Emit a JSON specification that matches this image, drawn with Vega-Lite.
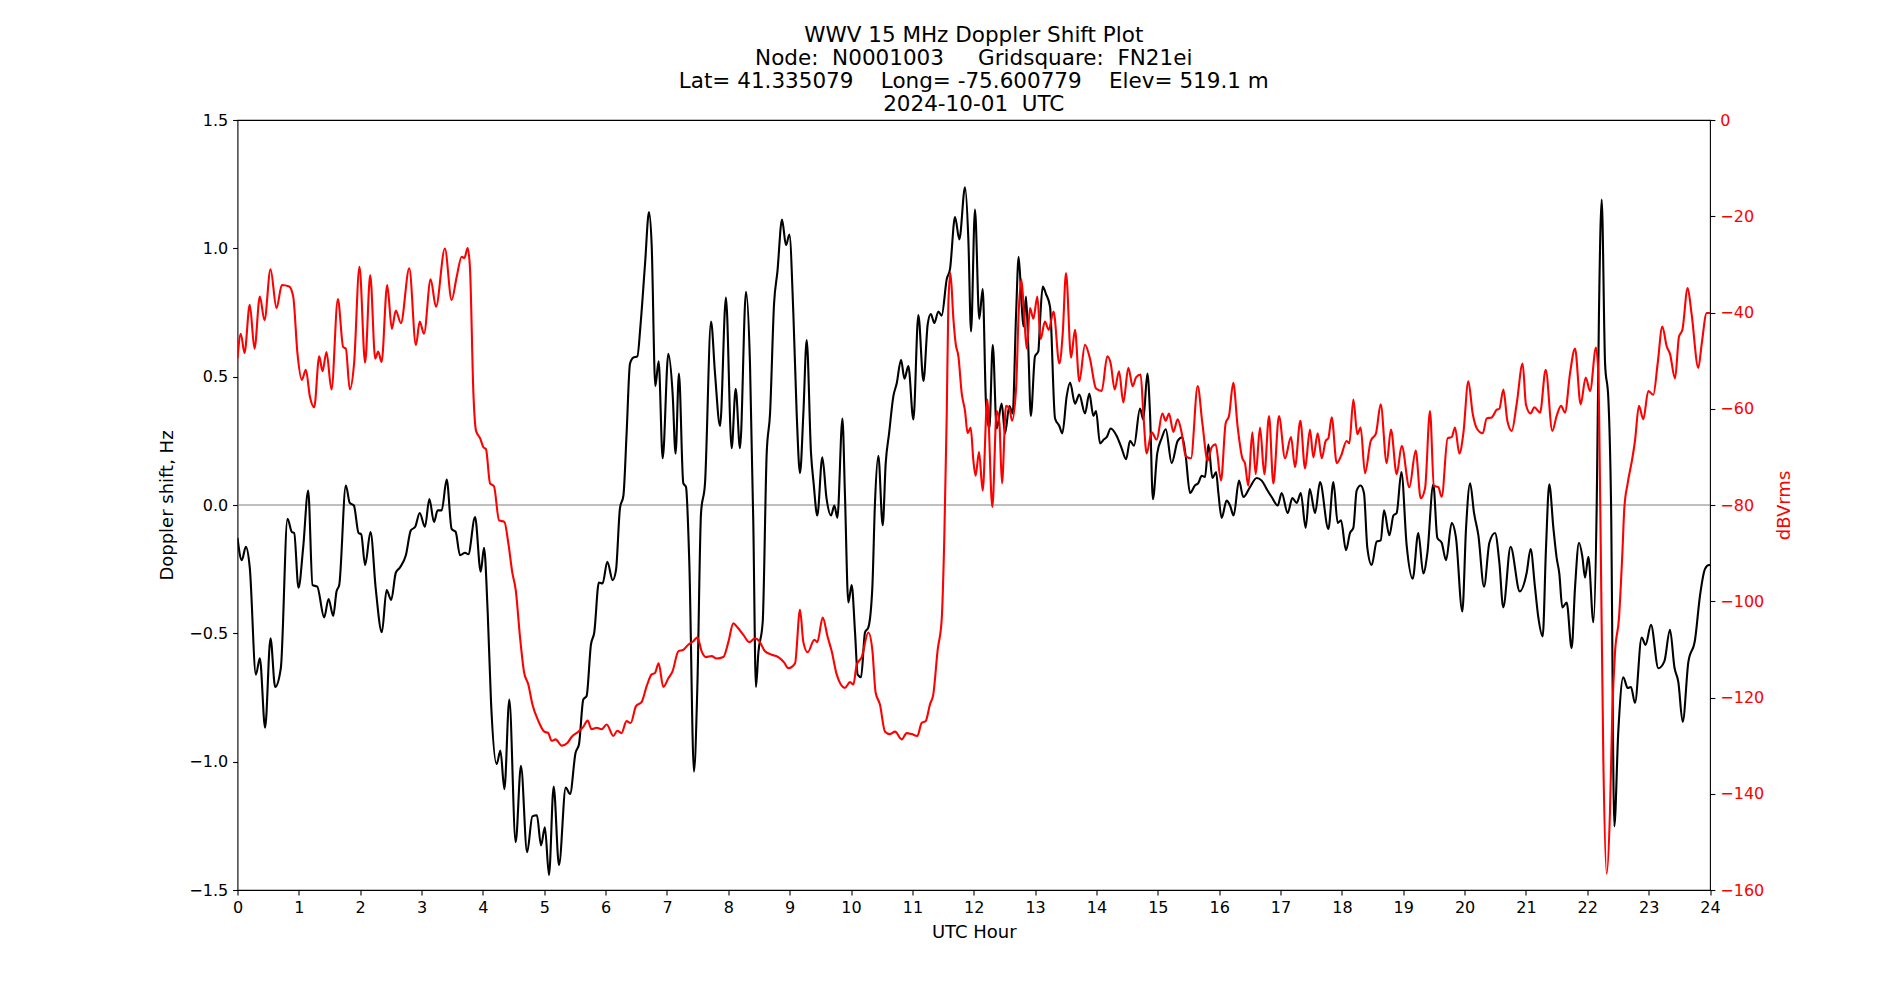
{
  "$schema": "https://vega.github.io/schema/vega-lite/v6.json",
  "width": 1472.5,
  "height": 770,
  "autosize": "none",
  "padding": {"left": 237.5, "top": 120, "right": 190, "bottom": 110},
  "background": "white",
  "title": {
    "text": ["WWV 15 MHz Doppler Shift Plot", "Node:\u00a0\u00a0N0001003\u00a0\u00a0\u00a0\u00a0\u00a0Gridsquare:\u00a0\u00a0FN21ei", "Lat=\u00a041.335079\u00a0\u00a0\u00a0\u00a0Long=\u00a0-75.600779\u00a0\u00a0\u00a0\u00a0Elev=\u00a0519.1\u00a0m", "2024-10-01\u00a0\u00a0UTC"],
    "font": "DejaVu Sans",
    "fontSize": 21.5,
    "fontWeight": "normal",
    "lineHeight": 23,
    "color": "black",
    "anchor": "middle",
    "frame": "group",
    "offset": -3.5
  },
  "config": {
    "view": {"stroke": "black", "strokeWidth": 1.1},
    "axis": {
      "labelFont": "DejaVu Sans",
      "titleFont": "DejaVu Sans",
      "labelFontSize": 16,
      "titleFontSize": 18,
      "titleFontWeight": "normal",
      "labelColor": "black",
      "titleColor": "black",
      "tickColor": "black",
      "tickWidth": 1.1,
      "tickSize": 4.9,
      "labelPadding": 4.9,
      "domain": false,
      "grid": false
    }
  },
  "datasets": {
    "doppler": [
      {"hour":0,"shift":-0.128},{"hour":0.07,"shift":-0.215},{"hour":0.136,"shift":-0.163},{"hour":0.2,"shift":-0.244},{"hour":0.3,"shift":-0.661},{"hour":0.364,"shift":-0.597},{"hour":0.45,"shift":-0.868},{"hour":0.538,"shift":-0.519},{"hour":0.614,"shift":-0.709},{"hour":0.706,"shift":-0.636},{"hour":0.815,"shift":-0.054},{"hour":0.886,"shift":-0.105},{"hour":0.924,"shift":-0.109},{"hour":0.994,"shift":-0.322},{"hour":1.07,"shift":-0.167},{"hour":1.152,"shift":0.056},{"hour":1.223,"shift":-0.312},{"hour":1.3,"shift":-0.318},{"hour":1.413,"shift":-0.438},{"hour":1.484,"shift":-0.366},{"hour":1.56,"shift":-0.432},{"hour":1.614,"shift":-0.337},{"hour":1.658,"shift":-0.312},{"hour":1.766,"shift":0.076},{"hour":1.83,"shift":0.008},{"hour":1.897,"shift":-0.002},{"hour":1.973,"shift":-0.109},{"hour":2.016,"shift":-0.114},{"hour":2.08,"shift":-0.234},{"hour":2.168,"shift":-0.105},{"hour":2.255,"shift":-0.331},{"hour":2.353,"shift":-0.496},{"hour":2.43,"shift":-0.331},{"hour":2.505,"shift":-0.37},{"hour":2.58,"shift":-0.264},{"hour":2.646,"shift":-0.244},{"hour":2.744,"shift":-0.196},{"hour":2.825,"shift":-0.099},{"hour":2.897,"shift":-0.085},{"hour":2.97,"shift":-0.031},
      {"hour":3.056,"shift":-0.085},{"hour":3.127,"shift":0.023},{"hour":3.203,"shift":-0.066},{"hour":3.262,"shift":-0.021},{"hour":3.328,"shift":-0.021},{"hour":3.41,"shift":0.099},{"hour":3.49,"shift":-0.093},{"hour":3.556,"shift":-0.105},{"hour":3.627,"shift":-0.196},{"hour":3.71,"shift":-0.186},{"hour":3.762,"shift":-0.192},{"hour":3.872,"shift":-0.047},{"hour":3.964,"shift":-0.26},{"hour":4.018,"shift":-0.167},{"hour":4.078,"shift":-0.419},{"hour":4.132,"shift":-0.767},{"hour":4.224,"shift":-1.01},{"hour":4.285,"shift":-0.957},{"hour":4.35,"shift":-1.107},{"hour":4.43,"shift":-0.758},{"hour":4.534,"shift":-1.314},{"hour":4.62,"shift":-1.016},{"hour":4.72,"shift":-1.353},{"hour":4.806,"shift":-1.213},{"hour":4.88,"shift":-1.209},{"hour":4.947,"shift":-1.326},{"hour":5.01,"shift":-1.256},{"hour":5.077,"shift":-1.442},{"hour":5.153,"shift":-1.097},{"hour":5.24,"shift":-1.403},{"hour":5.35,"shift":-1.101},{"hour":5.42,"shift":-1.126},{"hour":5.51,"shift":-0.965},{"hour":5.566,"shift":-0.932},{"hour":5.636,"shift":-0.758},{"hour":5.69,"shift":-0.744},{"hour":5.76,"shift":-0.545},{"hour":5.815,"shift":-0.496},{"hour":5.89,"shift":-0.302},{"hour":5.95,"shift":-0.306},
      {"hour":6.028,"shift":-0.221},{"hour":6.115,"shift":-0.293},{"hour":6.169,"shift":-0.254},{"hour":6.234,"shift":-0.012},{"hour":6.29,"shift":0.037},{"hour":6.342,"shift":0.279},{"hour":6.397,"shift":0.55},{"hour":6.45,"shift":0.574},{"hour":6.517,"shift":0.579},{"hour":6.57,"shift":0.705},{"hour":6.642,"shift":0.938},{"hour":6.707,"shift":1.141},{"hour":6.75,"shift":1.016},{"hour":6.81,"shift":0.463},{"hour":6.864,"shift":0.56},{"hour":6.93,"shift":0.182},{"hour":7.022,"shift":0.589},{"hour":7.092,"shift":0.434},{"hour":7.14,"shift":0.2},{"hour":7.195,"shift":0.512},{"hour":7.266,"shift":0.085},{"hour":7.31,"shift":0.07},{"hour":7.364,"shift":-0.225},{"hour":7.44,"shift":-1.039},{"hour":7.495,"shift":-0.709},{"hour":7.555,"shift":-0.031},{"hour":7.62,"shift":0.085},{"hour":7.718,"shift":0.715},{"hour":7.783,"shift":0.512},{"hour":7.865,"shift":0.308},{"hour":7.961,"shift":0.808},{"hour":8.054,"shift":0.221},{"hour":8.12,"shift":0.453},{"hour":8.19,"shift":0.221},{"hour":8.288,"shift":0.831},{"hour":8.353,"shift":0.55},{"hour":8.407,"shift":-0.07},{"hour":8.45,"shift":-0.709},{"hour":8.49,"shift":-0.574},{"hour":8.56,"shift":-0.457},{"hour":8.625,"shift":0.2},{"hour":8.68,"shift":0.357},{"hour":8.745,"shift":0.783},{"hour":8.8,"shift":0.909},{"hour":8.875,"shift":1.112},{"hour":8.94,"shift":1.012},{"hour":8.995,"shift":1.054},
      {"hour":9.06,"shift":0.744},{"hour":9.114,"shift":0.357},{"hour":9.168,"shift":0.124},{"hour":9.223,"shift":0.357},{"hour":9.277,"shift":0.643},{"hour":9.348,"shift":0.2},{"hour":9.39,"shift":0.085},{"hour":9.45,"shift":-0.041},{"hour":9.532,"shift":0.186},{"hour":9.6,"shift":0.027},{"hour":9.674,"shift":-0.041},{"hour":9.728,"shift":-0.002},{"hour":9.777,"shift":-0.05},{"hour":9.86,"shift":0.337},{"hour":9.9,"shift":0.047},{"hour":9.956,"shift":-0.38},{"hour":10.01,"shift":-0.312},{"hour":10.065,"shift":-0.496},{"hour":10.108,"shift":-0.661},{"hour":10.163,"shift":-0.671},{"hour":10.228,"shift":-0.496},{"hour":10.282,"shift":-0.477},{"hour":10.347,"shift":-0.322},{"hour":10.39,"shift":0.008},{"hour":10.445,"shift":0.192},{"hour":10.516,"shift":-0.079},{"hour":10.565,"shift":0.163},{"hour":10.62,"shift":0.279},{"hour":10.69,"shift":0.424},{"hour":10.744,"shift":0.473},{"hour":10.815,"shift":0.566},{"hour":10.87,"shift":0.492},{"hour":10.934,"shift":0.541},{"hour":11.016,"shift":0.333},{"hour":11.097,"shift":0.74},{"hour":11.18,"shift":0.483},{"hour":11.25,"shift":0.705},{"hour":11.3,"shift":0.744},{"hour":11.358,"shift":0.709},{"hour":11.423,"shift":0.754},{"hour":11.477,"shift":0.738},{"hour":11.56,"shift":0.88},{"hour":11.613,"shift":0.919},{"hour":11.695,"shift":1.122},{"hour":11.765,"shift":1.035},{"hour":11.858,"shift":1.238},{"hour":11.912,"shift":1.035},{"hour":11.956,"shift":0.676},{"hour":12.02,"shift":1.151},{"hour":12.09,"shift":0.725},
      {"hour":12.146,"shift":0.841},{"hour":12.2,"shift":0.395},{"hour":12.254,"shift":0.298},{"hour":12.31,"shift":0.624},{"hour":12.374,"shift":0.298},{"hour":12.455,"shift":0.395},{"hour":12.51,"shift":0.279},{"hour":12.58,"shift":0.386},{"hour":12.634,"shift":0.357},{"hour":12.69,"shift":0.744},{"hour":12.732,"shift":0.967},{"hour":12.78,"shift":0.783},{"hour":12.81,"shift":0.696},{"hour":12.852,"shift":0.812},{"hour":12.89,"shift":0.609},{"hour":12.93,"shift":0.347},{"hour":12.998,"shift":0.579},{"hour":13.053,"shift":0.599},{"hour":13.08,"shift":0.715},{"hour":13.124,"shift":0.851},{"hour":13.178,"shift":0.822},{"hour":13.243,"shift":0.773},{"hour":13.325,"shift":0.337},{"hour":13.395,"shift":0.308},{"hour":13.444,"shift":0.279},{"hour":13.515,"shift":0.424},{"hour":13.57,"shift":0.477},{"hour":13.65,"shift":0.395},{"hour":13.72,"shift":0.43},{"hour":13.813,"shift":0.357},{"hour":13.884,"shift":0.434},{"hour":13.95,"shift":0.347},{"hour":13.993,"shift":0.366},{"hour":14.058,"shift":0.24},{"hour":14.123,"shift":0.256},{"hour":14.167,"shift":0.264},{"hour":14.232,"shift":0.298},{"hour":14.33,"shift":0.269},{"hour":14.411,"shift":0.221},{"hour":14.482,"shift":0.178},{"hour":14.547,"shift":0.25},{"hour":14.612,"shift":0.231},{"hour":14.71,"shift":0.376},{"hour":14.764,"shift":0.333},{"hour":14.83,"shift":0.512},{"hour":14.873,"shift":0.357},{"hour":14.92,"shift":0.023},{"hour":14.99,"shift":0.2},
      {"hour":15.063,"shift":0.26},{"hour":15.13,"shift":0.295},{"hour":15.226,"shift":0.163},{"hour":15.324,"shift":0.25},{"hour":15.4,"shift":0.264},{"hour":15.454,"shift":0.192},{"hour":15.525,"shift":0.047},{"hour":15.606,"shift":0.076},{"hour":15.66,"shift":0.085},{"hour":15.715,"shift":0.114},{"hour":15.77,"shift":0.109},{"hour":15.824,"shift":0.236},{"hour":15.89,"shift":0.105},{"hour":15.95,"shift":0.128},{"hour":15.987,"shift":0.047},{"hour":16.04,"shift":-0.05},{"hour":16.122,"shift":0.017},{"hour":16.177,"shift":-0.002},{"hour":16.236,"shift":-0.041},{"hour":16.323,"shift":0.095},{"hour":16.394,"shift":0.031},{"hour":16.503,"shift":0.07},{"hour":16.611,"shift":0.105},{"hour":16.693,"shift":0.095},{"hour":16.775,"shift":0.062},{"hour":16.856,"shift":0.031},{"hour":16.954,"shift":-0.002},{"hour":17.019,"shift":0.047},{"hour":17.117,"shift":-0.031},{"hour":17.193,"shift":0.027},{"hour":17.264,"shift":0.008},{"hour":17.33,"shift":0.047},{"hour":17.41,"shift":-0.089},{"hour":17.476,"shift":0.062},{"hour":17.563,"shift":-0.031},{"hour":17.644,"shift":0.089},{"hour":17.78,"shift":-0.093},{"hour":17.862,"shift":0.089},{"hour":17.932,"shift":-0.07},{"hour":17.986,"shift":-0.06},
      {"hour":18.067,"shift":-0.176},{"hour":18.133,"shift":-0.109},{"hour":18.187,"shift":-0.089},{"hour":18.241,"shift":0.056},{"hour":18.306,"shift":0.076},{"hour":18.36,"shift":0.047},{"hour":18.415,"shift":-0.167},{"hour":18.486,"shift":-0.234},{"hour":18.567,"shift":-0.143},{"hour":18.633,"shift":-0.138},{"hour":18.687,"shift":-0.021},{"hour":18.774,"shift":-0.118},{"hour":18.84,"shift":-0.041},{"hour":18.893,"shift":-0.031},{"hour":18.97,"shift":0.128},{"hour":19.056,"shift":-0.157},{"hour":19.154,"shift":-0.287},{"hour":19.246,"shift":-0.109},{"hour":19.327,"shift":-0.267},{"hour":19.394,"shift":-0.186},{"hour":19.49,"shift":0.081},{"hour":19.556,"shift":-0.128},{"hour":19.627,"shift":-0.147},{"hour":19.698,"shift":-0.215},{"hour":19.79,"shift":-0.07},{"hour":19.86,"shift":-0.128},{"hour":19.963,"shift":-0.415},{"hour":20.024,"shift":-0.089},{"hour":20.09,"shift":0.085},{"hour":20.154,"shift":-0.031},{"hour":20.225,"shift":-0.118},{"hour":20.317,"shift":-0.318},{"hour":20.404,"shift":-0.147},{"hour":20.496,"shift":-0.109},{"hour":20.567,"shift":-0.225},{"hour":20.63,"shift":-0.399},{"hour":20.75,"shift":-0.163},{"hour":20.9,"shift":-0.337},{"hour":21.012,"shift":-0.264},{"hour":21.076,"shift":-0.172},
      {"hour":21.148,"shift":-0.322},{"hour":21.202,"shift":-0.438},{"hour":21.273,"shift":-0.512},{"hour":21.327,"shift":-0.167},{"hour":21.38,"shift":0.081},{"hour":21.447,"shift":-0.089},{"hour":21.5,"shift":-0.205},{"hour":21.544,"shift":-0.267},{"hour":21.593,"shift":-0.399},{"hour":21.664,"shift":-0.38},{"hour":21.745,"shift":-0.558},{"hour":21.8,"shift":-0.322},{"hour":21.865,"shift":-0.147},{"hour":21.92,"shift":-0.202},{"hour":21.963,"shift":-0.283},{"hour":22.017,"shift":-0.202},{"hour":22.1,"shift":-0.457},{"hour":22.154,"shift":0.008},{"hour":22.19,"shift":0.744},{"hour":22.235,"shift":1.19},{"hour":22.29,"shift":0.55},{"hour":22.343,"shift":0.415},{"hour":22.387,"shift":0.008},{"hour":22.44,"shift":-1.252},{"hour":22.505,"shift":-0.884},{"hour":22.587,"shift":-0.671},{"hour":22.658,"shift":-0.713},{"hour":22.712,"shift":-0.709},{"hour":22.777,"shift":-0.771},{"hour":22.886,"shift":-0.516},{"hour":22.95,"shift":-0.545},{"hour":23.038,"shift":-0.467},{"hour":23.158,"shift":-0.636},{"hour":23.256,"shift":-0.609},{"hour":23.348,"shift":-0.486},{"hour":23.42,"shift":-0.632},{"hour":23.484,"shift":-0.69},{"hour":23.555,"shift":-0.845},{"hour":23.647,"shift":-0.612},{"hour":23.756,"shift":-0.525},{"hour":23.838,"shift":-0.351},{"hour":23.92,"shift":-0.248},{"hour":23.984,"shift":-0.234},{"hour":24,"shift":-0.234}
    ],
    "power": [
      {"hour":0,"dbv":-49.6},{"hour":0.054,"dbv":-44.4},{"hour":0.114,"dbv":-48.4},{"hour":0.2,"dbv":-38.4},{"hour":0.277,"dbv":-47.5},{"hour":0.364,"dbv":-36.7},{"hour":0.44,"dbv":-41.6},{"hour":0.538,"dbv":-31.0},{"hour":0.636,"dbv":-39.1},{"hour":0.723,"dbv":-34.3},{"hour":0.842,"dbv":-34.6},{"hour":0.908,"dbv":-36.7},{"hour":0.978,"dbv":-48.6},{"hour":1.049,"dbv":-54.0},{"hour":1.114,"dbv":-51.9},{"hour":1.179,"dbv":-57.4},{"hour":1.25,"dbv":-59.7},{"hour":1.332,"dbv":-49.1},{"hour":1.386,"dbv":-52.2},{"hour":1.45,"dbv":-48.2},{"hour":1.532,"dbv":-56.0},{"hour":1.636,"dbv":-37.2},{"hour":1.723,"dbv":-47.2},{"hour":1.766,"dbv":-47.5},{"hour":1.83,"dbv":-56.0},{"hour":1.9,"dbv":-50.6},{"hour":1.988,"dbv":-30.5},{"hour":2.08,"dbv":-50.4},{"hour":2.163,"dbv":-32.2},{"hour":2.245,"dbv":-49.6},{"hour":2.293,"dbv":-48.1},{"hour":2.348,"dbv":-50.3},{"hour":2.44,"dbv":-34.3},{"hour":2.516,"dbv":-43.4},{"hour":2.58,"dbv":-39.6},{"hour":2.663,"dbv":-42.2},{"hour":2.8,"dbv":-30.8},{"hour":2.908,"dbv":-46.8},{"hour":2.97,"dbv":-41.9},{"hour":3.04,"dbv":-44.4},
      {"hour":3.148,"dbv":-33.1},{"hour":3.235,"dbv":-38.8},{"hour":3.38,"dbv":-26.7},{"hour":3.49,"dbv":-37.4},{"hour":3.572,"dbv":-32.6},{"hour":3.654,"dbv":-28.4},{"hour":3.697,"dbv":-28.7},{"hour":3.752,"dbv":-26.6},{"hour":3.79,"dbv":-31.0},{"hour":3.845,"dbv":-56.8},{"hour":3.888,"dbv":-64.6},{"hour":3.953,"dbv":-66.1},{"hour":4.008,"dbv":-68.0},{"hour":4.05,"dbv":-68.4},{"hour":4.116,"dbv":-75.5},{"hour":4.18,"dbv":-76.1},{"hour":4.263,"dbv":-83.2},{"hour":4.35,"dbv":-83.5},{"hour":4.414,"dbv":-87.9},{"hour":4.48,"dbv":-94.1},{"hour":4.535,"dbv":-97.7},{"hour":4.605,"dbv":-107.5},{"hour":4.67,"dbv":-114.7},{"hour":4.74,"dbv":-117.3},{"hour":4.806,"dbv":-121.4},{"hour":4.904,"dbv":-124.9},{"hour":5.0,"dbv":-127.1},{"hour":5.066,"dbv":-127.4},{"hour":5.12,"dbv":-129.0},{"hour":5.185,"dbv":-128.7},{"hour":5.284,"dbv":-130.0},{"hour":5.38,"dbv":-129.4},{"hour":5.445,"dbv":-128.2},{"hour":5.554,"dbv":-127.1},{"hour":5.636,"dbv":-126.1},{"hour":5.707,"dbv":-124.8},{"hour":5.77,"dbv":-126.6},{"hour":5.853,"dbv":-126.3},{"hour":5.935,"dbv":-126.6},{"hour":6.017,"dbv":-125.6},
      {"hour":6.125,"dbv":-128.0},{"hour":6.19,"dbv":-126.9},{"hour":6.26,"dbv":-127.4},{"hour":6.34,"dbv":-124.9},{"hour":6.408,"dbv":-125.3},{"hour":6.495,"dbv":-121.8},{"hour":6.588,"dbv":-120.9},{"hour":6.67,"dbv":-117.6},{"hour":6.75,"dbv":-115.2},{"hour":6.804,"dbv":-114.9},{"hour":6.864,"dbv":-112.9},{"hour":6.94,"dbv":-117.8},{"hour":7.022,"dbv":-116.0},{"hour":7.092,"dbv":-114.5},{"hour":7.185,"dbv":-110.4},{"hour":7.266,"dbv":-110.1},{"hour":7.35,"dbv":-109.0},{"hour":7.43,"dbv":-108.3},{"hour":7.495,"dbv":-107.5},{"hour":7.565,"dbv":-110.4},{"hour":7.636,"dbv":-111.6},{"hour":7.728,"dbv":-111.4},{"hour":7.81,"dbv":-111.9},{"hour":7.918,"dbv":-111.6},{"hour":8.0,"dbv":-108.5},{"hour":8.081,"dbv":-104.6},{"hour":8.147,"dbv":-105.4},{"hour":8.245,"dbv":-107.0},{"hour":8.343,"dbv":-108.5},{"hour":8.434,"dbv":-107.7},{"hour":8.505,"dbv":-108.3},{"hour":8.598,"dbv":-110.4},{"hour":8.707,"dbv":-111.1},{"hour":8.815,"dbv":-111.6},{"hour":8.908,"dbv":-112.7},{"hour":8.978,"dbv":-113.9},
      {"hour":9.087,"dbv":-112.9},{"hour":9.168,"dbv":-101.8},{"hour":9.223,"dbv":-108.5},{"hour":9.293,"dbv":-110.6},{"hour":9.402,"dbv":-108.0},{"hour":9.45,"dbv":-108.5},{"hour":9.538,"dbv":-103.4},{"hour":9.62,"dbv":-107.5},{"hour":9.685,"dbv":-110.4},{"hour":9.766,"dbv":-115.2},{"hour":9.9,"dbv":-118.0},{"hour":9.983,"dbv":-116.8},{"hour":10.038,"dbv":-117.3},{"hour":10.092,"dbv":-113.2},{"hour":10.174,"dbv":-111.6},{"hour":10.282,"dbv":-106.5},{"hour":10.347,"dbv":-110.1},{"hour":10.4,"dbv":-118.9},{"hour":10.47,"dbv":-121.4},{"hour":10.554,"dbv":-127.1},{"hour":10.635,"dbv":-127.6},{"hour":10.717,"dbv":-127.1},{"hour":10.826,"dbv":-128.7},{"hour":10.907,"dbv":-127.4},{"hour":10.99,"dbv":-127.6},{"hour":11.08,"dbv":-128.0},{"hour":11.15,"dbv":-125.3},{"hour":11.217,"dbv":-124.9},{"hour":11.287,"dbv":-121.4},{"hour":11.34,"dbv":-119.4},{"hour":11.412,"dbv":-110.1},{"hour":11.477,"dbv":-103.9},{"hour":11.52,"dbv":-86.8},{"hour":11.56,"dbv":-61.0},{"hour":11.586,"dbv":-38.2},{"hour":11.62,"dbv":-31.8},{"hour":11.668,"dbv":-41.3},{"hour":11.706,"dbv":-46.5},{"hour":11.75,"dbv":-49.1},{"hour":11.804,"dbv":-56.8},{"hour":11.858,"dbv":-60.5},{"hour":11.9,"dbv":-65.1},{"hour":11.95,"dbv":-63.9},{"hour":11.994,"dbv":-70.8},{"hour":12.03,"dbv":-73.9},{"hour":12.086,"dbv":-69.0},
      {"hour":12.146,"dbv":-77.0},{"hour":12.22,"dbv":-58.1},{"hour":12.303,"dbv":-80.4},{"hour":12.374,"dbv":-60.5},{"hour":12.418,"dbv":-63.0},{"hour":12.46,"dbv":-75.5},{"hour":12.526,"dbv":-59.4},{"hour":12.58,"dbv":-59.9},{"hour":12.624,"dbv":-62.5},{"hour":12.69,"dbv":-55.8},{"hour":12.733,"dbv":-39.8},{"hour":12.776,"dbv":-33.1},{"hour":12.82,"dbv":-40.3},{"hour":12.863,"dbv":-47.5},{"hour":12.917,"dbv":-39.1},{"hour":12.972,"dbv":-41.3},{"hour":13.036,"dbv":-36.7},{"hour":13.09,"dbv":-45.5},{"hour":13.16,"dbv":-41.9},{"hour":13.222,"dbv":-43.6},{"hour":13.3,"dbv":-39.8},{"hour":13.395,"dbv":-50.6},{"hour":13.45,"dbv":-44.4},{"hour":13.504,"dbv":-31.8},{"hour":13.586,"dbv":-49.4},{"hour":13.65,"dbv":-43.6},{"hour":13.72,"dbv":-54.3},{"hour":13.813,"dbv":-46.7},{"hour":13.894,"dbv":-49.6},{"hour":13.993,"dbv":-55.8},{"hour":14.085,"dbv":-56.3},{"hour":14.177,"dbv":-49.1},{"hour":14.232,"dbv":-50.6},{"hour":14.297,"dbv":-56.0},{"hour":14.368,"dbv":-52.2},{"hour":14.438,"dbv":-58.7},{"hour":14.52,"dbv":-51.5},{"hour":14.59,"dbv":-55.3},{"hour":14.645,"dbv":-53.5},{"hour":14.72,"dbv":-52.9},{"hour":14.764,"dbv":-61.0},{"hour":14.818,"dbv":-69.3},{"hour":14.9,"dbv":-64.9},{"hour":14.982,"dbv":-66.4},
      {"hour":15.074,"dbv":-61.0},{"hour":15.128,"dbv":-62.5},{"hour":15.183,"dbv":-61.0},{"hour":15.253,"dbv":-64.8},{"hour":15.324,"dbv":-62.2},{"hour":15.39,"dbv":-65.1},{"hour":15.454,"dbv":-69.8},{"hour":15.54,"dbv":-70.3},{"hour":15.65,"dbv":-55.3},{"hour":15.726,"dbv":-63.0},{"hour":15.813,"dbv":-70.8},{"hour":15.878,"dbv":-68.0},{"hour":15.943,"dbv":-67.4},{"hour":16.03,"dbv":-74.9},{"hour":16.106,"dbv":-63.0},{"hour":16.16,"dbv":-61.5},{"hour":16.23,"dbv":-54.6},{"hour":16.3,"dbv":-63.6},{"hour":16.378,"dbv":-70.3},{"hour":16.42,"dbv":-71.3},{"hour":16.475,"dbv":-76.0},{"hour":16.54,"dbv":-64.9},{"hour":16.595,"dbv":-73.6},{"hour":16.666,"dbv":-63.9},{"hour":16.736,"dbv":-73.6},{"hour":16.813,"dbv":-61.5},{"hour":16.883,"dbv":-75.5},{"hour":16.975,"dbv":-61.5},{"hour":17.073,"dbv":-70.3},{"hour":17.171,"dbv":-65.9},{"hour":17.236,"dbv":-72.1},{"hour":17.323,"dbv":-62.5},{"hour":17.4,"dbv":-72.4},{"hour":17.48,"dbv":-64.3},{"hour":17.535,"dbv":-70.1},{"hour":17.606,"dbv":-65.1},{"hour":17.672,"dbv":-70.3},{"hour":17.736,"dbv":-66.7},{"hour":17.78,"dbv":-66.1},{"hour":17.834,"dbv":-61.8},{"hour":17.916,"dbv":-71.3},{"hour":17.986,"dbv":-69.8},
      {"hour":18.078,"dbv":-66.7},{"hour":18.122,"dbv":-67.2},{"hour":18.187,"dbv":-58.1},{"hour":18.252,"dbv":-65.3},{"hour":18.306,"dbv":-63.9},{"hour":18.377,"dbv":-73.4},{"hour":18.47,"dbv":-66.7},{"hour":18.556,"dbv":-65.1},{"hour":18.633,"dbv":-59.1},{"hour":18.73,"dbv":-71.3},{"hour":18.8,"dbv":-64.3},{"hour":18.893,"dbv":-73.6},{"hour":18.975,"dbv":-67.7},{"hour":19.1,"dbv":-76.3},{"hour":19.203,"dbv":-68.7},{"hour":19.285,"dbv":-78.6},{"hour":19.356,"dbv":-76.5},{"hour":19.436,"dbv":-60.5},{"hour":19.5,"dbv":-76.0},{"hour":19.572,"dbv":-76.3},{"hour":19.627,"dbv":-78.3},{"hour":19.724,"dbv":-66.1},{"hour":19.79,"dbv":-65.9},{"hour":19.844,"dbv":-63.9},{"hour":19.915,"dbv":-69.3},{"hour":19.98,"dbv":-65.1},{"hour":20.061,"dbv":-54.3},{"hour":20.132,"dbv":-61.0},{"hour":20.2,"dbv":-64.1},{"hour":20.296,"dbv":-65.1},{"hour":20.36,"dbv":-62.0},{"hour":20.442,"dbv":-61.8},{"hour":20.524,"dbv":-60.2},{"hour":20.567,"dbv":-60.0},{"hour":20.632,"dbv":-56.0},{"hour":20.697,"dbv":-62.5},{"hour":20.768,"dbv":-64.6},{"hour":20.85,"dbv":-58.9},{"hour":20.946,"dbv":-50.6},{"hour":21.0,"dbv":-59.1},{"hour":21.076,"dbv":-61.0},
      {"hour":21.137,"dbv":-59.7},{"hour":21.23,"dbv":-60.8},{"hour":21.322,"dbv":-51.9},{"hour":21.43,"dbv":-64.6},{"hour":21.5,"dbv":-61.5},{"hour":21.572,"dbv":-59.4},{"hour":21.636,"dbv":-60.8},{"hour":21.718,"dbv":-52.7},{"hour":21.8,"dbv":-47.5},{"hour":21.892,"dbv":-59.1},{"hour":21.974,"dbv":-53.5},{"hour":22.045,"dbv":-56.3},{"hour":22.142,"dbv":-47.3},{"hour":22.18,"dbv":-52.7},{"hour":22.213,"dbv":-81.7},{"hour":22.262,"dbv":-133.3},{"hour":22.316,"dbv":-156.6},{"hour":22.37,"dbv":-143.7},{"hour":22.408,"dbv":-123.0},{"hour":22.452,"dbv":-110.6},{"hour":22.517,"dbv":-103.4},{"hour":22.572,"dbv":-89.9},{"hour":22.604,"dbv":-80.6},{"hour":22.658,"dbv":-75.5},{"hour":22.734,"dbv":-70.3},{"hour":22.777,"dbv":-66.7},{"hour":22.842,"dbv":-59.4},{"hour":22.913,"dbv":-62.2},{"hour":22.994,"dbv":-56.3},{"hour":23.076,"dbv":-57.1},{"hour":23.147,"dbv":-50.6},{"hour":23.223,"dbv":-42.9},{"hour":23.294,"dbv":-47.0},{"hour":23.348,"dbv":-48.6},{"hour":23.43,"dbv":-53.7},{"hour":23.495,"dbv":-45.0},{"hour":23.55,"dbv":-43.6},{"hour":23.636,"dbv":-34.9},{"hour":23.7,"dbv":-40.3},{"hour":23.81,"dbv":-51.5},{"hour":23.865,"dbv":-46.5},{"hour":23.946,"dbv":-40.1},{"hour":24,"dbv":-40.1}
    ],
    "zero": [{"level": 0}]
  },
  "layer": [
    {
      "layer": [
        {
          "data": {"name": "zero"},
          "mark": {"type": "rule", "color": "#808080", "strokeWidth": 1},
          "encoding": {
            "y": {"field": "level", "type": "quantitative", "scale": {"domain": [-1.5, 1.5], "nice": false, "zero": false}}
          }
        },
        {
          "data": {"name": "doppler"},
          "mark": {"type": "line", "color": "black", "strokeWidth": 2.1, "interpolate": "monotone", "clip": true},
          "encoding": {
            "x": {"field": "hour", "type": "quantitative", "scale": {"domain": [0, 24], "nice": false, "zero": false},
              "axis": {"values": [0,1,2,3,4,5,6,7,8,9,10,11,12,13,14,15,16,17,18,19,20,21,22,23,24], "format": "d", "title": "UTC Hour", "titlePadding": 8, "labelFlush": false}},
            "y": {"field": "shift", "type": "quantitative", "scale": {"domain": [-1.5, 1.5], "nice": false, "zero": false},
              "axis": {"orient": "left", "values": [-1.5,-1.0,-0.5,0,0.5,1.0,1.5], "format": ".1f", "title": "Doppler shift, Hz", "titlePadding": 12}}
          }
        }
      ]
    },
    {
      "data": {"name": "power"},
      "mark": {"type": "line", "color": "#ff0000", "strokeWidth": 2.1, "interpolate": "monotone", "clip": true},
      "encoding": {
        "x": {"field": "hour", "type": "quantitative", "scale": {"domain": [0, 24], "nice": false, "zero": false}},
        "y": {"field": "dbv", "type": "quantitative", "scale": {"domain": [-160, 0], "nice": false, "zero": false},
          "axis": {"orient": "right", "values": [-160,-140,-120,-100,-80,-60,-40,-20,0], "format": "d", "title": "dBVrms", "labelColor": "#ff0000", "titleColor": "#ff0000", "titleAngle": 270, "titlePadding": 30}}
      }
    }
  ],
  "resolve": {"scale": {"y": "independent"}, "axis": {"y": "independent"}}
}
